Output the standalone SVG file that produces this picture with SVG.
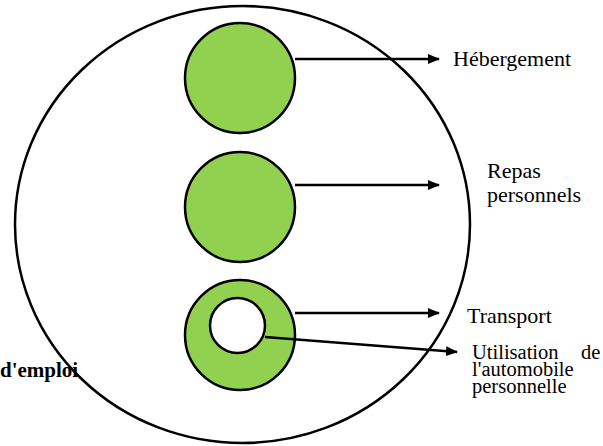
<svg xmlns="http://www.w3.org/2000/svg" width="603" height="446" viewBox="0 0 603 446">
<defs>
<style>
.outline{fill:#fff;stroke:#000;stroke-width:2.5}
.green{fill:#92D050;stroke:#000;stroke-width:2.5}
.hole{fill:#fff;stroke:#000;stroke-width:2.5}
.conn{stroke:#000;stroke-width:2.5;fill:none;marker-end:url(#ah)}
text{font-family:'Liberation Serif','DejaVu Serif',serif;fill:#000}
.lbl{font-size:22px}
.lbl2{font-size:20.5px}
.bold{font-size:21px;font-weight:bold}
</style>
<marker id="ah" markerWidth="12" markerHeight="10" refX="11" refY="5" orient="auto" markerUnits="userSpaceOnUse">
<path d="M0,0 L12,5 L0,10 Z" fill="#000"/>
</marker>
</defs>
<g id="outer"><ellipse class="outline" cx="242.5" cy="224.5" rx="227.5" ry="218.5"/></g>
<g id="label-emploi"><text class="bold" font-family="Liberation Serif, serif" x="0" y="377">d'emploi</text></g>
<g id="node-hebergement"><circle class="green" cx="240" cy="78" r="55"/></g>
<g id="node-repas"><circle class="green" cx="240" cy="207" r="55"/></g>
<g id="node-transport"><circle class="green" cx="240" cy="335" r="55"/></g>
<g id="node-auto"><circle class="hole" cx="237.5" cy="325.5" r="27.5"/></g>
<g id="connectors">
<line class="conn" x1="295" y1="59" x2="439" y2="59"/>
<line class="conn" x1="295" y1="185" x2="439" y2="185"/>
<line class="conn" x1="295" y1="313" x2="439" y2="313"/>
<line class="conn" x1="265" y1="337" x2="457" y2="352"/>
</g>
<g id="labels">
<text class="lbl" x="453" y="66">Hébergement</text>
<text class="lbl" x="487" y="178">Repas</text>
<text class="lbl" x="487" y="202">personnels</text>
<text class="lbl" x="467" y="323">Transport</text>
<text class="lbl2" x="472" y="359">Utilisation</text>
<text class="lbl2" x="581" y="359">de</text>
<text class="lbl2" x="472" y="376">l'automobile</text>
<text class="lbl2" x="472" y="393">personnelle</text>
</g>
</svg>
